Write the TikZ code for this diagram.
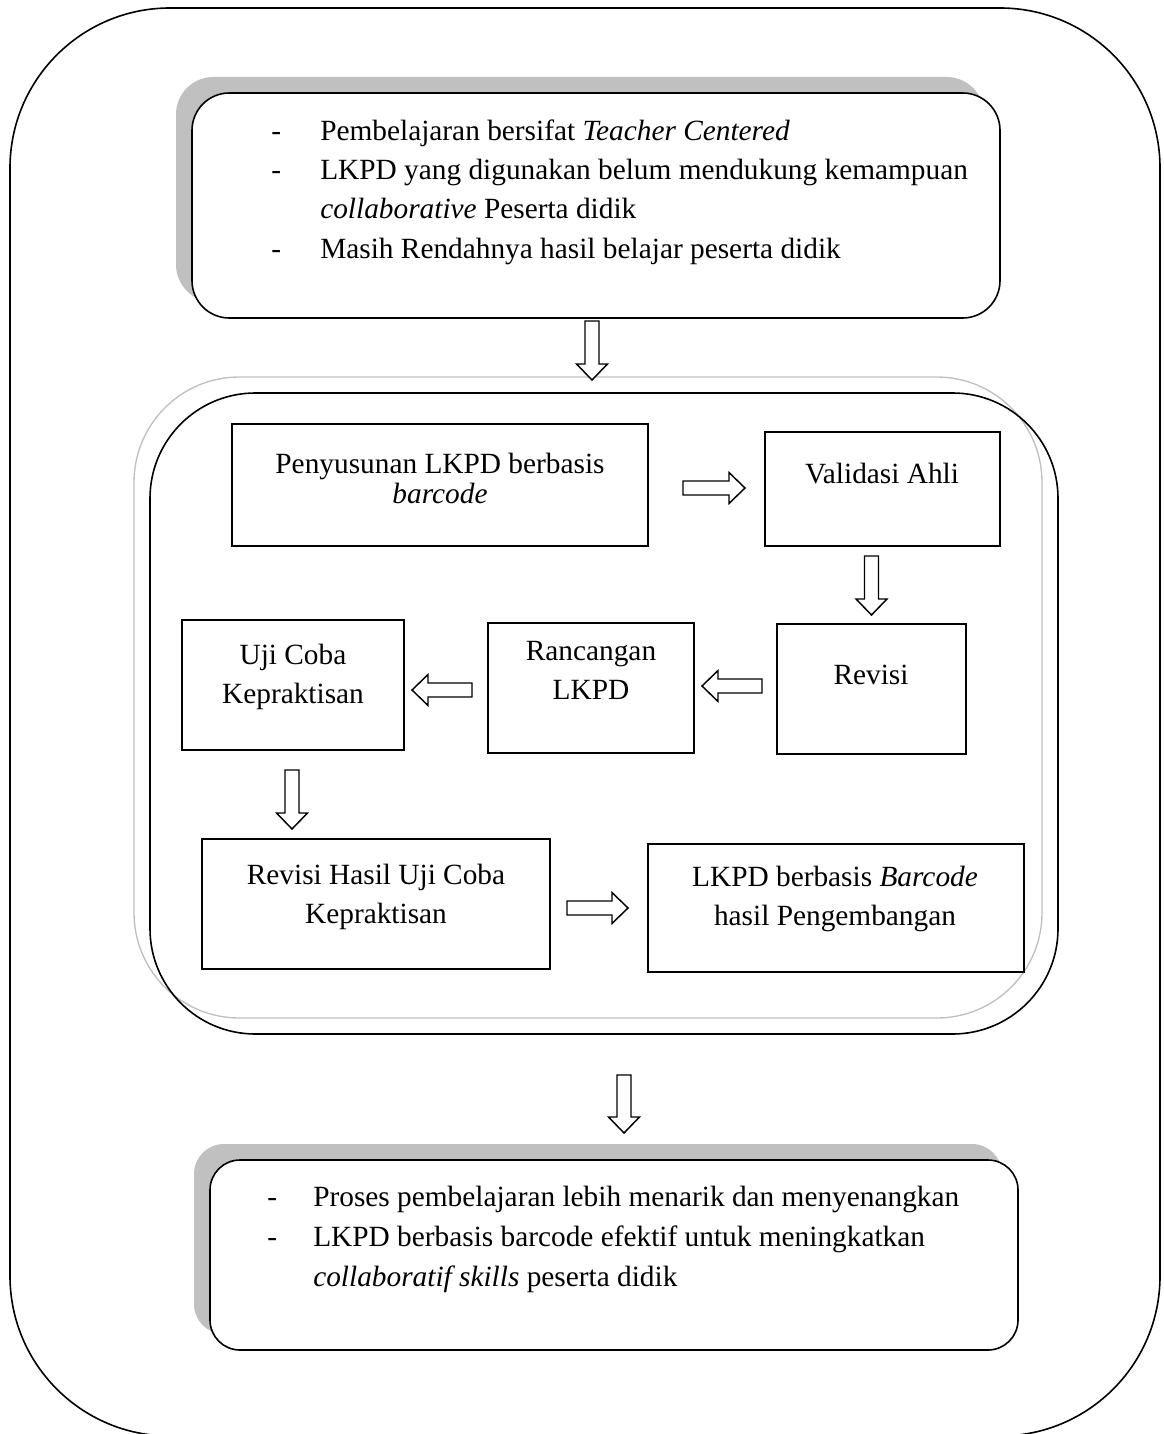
\documentclass[tikz,border=0pt]{standalone}
\usepackage{fontspec}
\setmainfont{Liberation Serif}
\usetikzlibrary{calc,fit}

% hollow block arrow from one named coordinate to another
\newcommand\fatarrow[2]{%
  \coordinate (#1-h) at ($(#2)!12pt!(#1)$);
  \draw[blockarrow] ($(#1)!5.25pt!90:(#2)$) -- ($(#1-h)!5.25pt!90:(#2)$)
    -- ($(#1-h)!11.6pt!90:(#2)$) -- (#2) -- ($(#1-h)!11.6pt!-90:(#2)$)
    -- ($(#1-h)!5.25pt!-90:(#2)$) -- ($(#1)!5.25pt!-90:(#2)$) -- cycle;}

\definecolor{shadowgray}{HTML}{C0C0C0}
\definecolor{rim}{HTML}{BFBFBF}

\tikzset{
  frame/.style={draw=black, line width=1.2pt},
  stepbox/.style={draw=black, line width=1.2pt, inner sep=0pt},
  blockarrow/.style={draw=black, line width=1.1pt, fill=white, line join=miter},
  txt/.style={inner sep=0pt, font=\fontsize{22pt}{29.25pt}\selectfont},
  boxtxt/.style={txt, align=center},
}

\begin{document}
\begin{tikzpicture}[x=0.75pt, y=-0.75pt]
\useasboundingbox (0,0) rectangle (1163,1434);

% outer frame
\draw[frame, rounded corners=120pt] (10,8) rectangle (1160,1436);

% problem box with shadow
\fill[shadowgray, rounded corners=28pt] (176,77) rectangle (984,302);
\draw[frame, fill=white, rounded corners=28pt] (192,93) rectangle (1000,318);
\node[fit={(192,93) (1000,318)}, inner sep=0pt] (problem) {};

\node[txt, anchor=base west] (p1d) at (271,141) {-};
\node[txt, anchor=base west] (p1) at (320,141) {Pembelajaran bersifat \textit{Teacher Centered}};
\node[txt, anchor=base west] (p2d) at (271,180) {-};
\node[txt, anchor=base west] (p2) at (320,180) {LKPD yang digunakan belum mendukung kemampuan};
\node[txt, anchor=base west] (p3) at (320,219) {\textit{collaborative} Peserta didik};
\node[txt, anchor=base west] (p4d) at (271,258) {-};
\node[txt, anchor=base west] (p4) at (320,258) {Masih Rendahnya hasil belajar peserta didik};

% development frame
\draw[draw=rim, line width=1pt, rounded corners=79pt] (134,377) rectangle (1042,1018);
\draw[frame, rounded corners=79pt] (150,393) rectangle (1058,1034);
\node[fit={(150,393) (1058,1034)}, inner sep=0pt] (dev) {};

% steps
\node[stepbox, fit={(232,424) (648,546)}] (susun) {};
\node[boxtxt, font=\fontsize{22pt}{22.5pt}\selectfont] (susunT) at (440,478) {Penyusunan LKPD berbasis\\\textit{barcode}};

\node[stepbox, fit={(765,432) (1000,546)}] (valid) {};
\node[boxtxt] (validT) at (882,474) {Validasi Ahli};

\node[stepbox, fit={(777,624) (966,754)}] (revisi) {};
\node[boxtxt] (revisiT) at (871,675) {Revisi};

\node[stepbox, fit={(488,623) (694,753)}] (rancang) {};
\node[boxtxt] (rancangT) at (591,670) {Rancangan\\LKPD};

\node[stepbox, fit={(182,620) (404,750)}] (uji) {};
\node[boxtxt] (ujiT) at (293,677) {Uji Coba\\Kepraktisan};

\node[stepbox, fit={(202,839) (550,969)}] (revhasil) {};
\node[boxtxt] (revhasilT) at (376,897) {Revisi Hasil Uji Coba\\Kepraktisan};

\node[stepbox, fit={(648,844) (1024,972)}] (hasil) {};
\node[boxtxt] (hasilT) at (835,899) {LKPD berbasis \textit{Barcode}\\hasil Pengembangan};

% outcome box with shadow
\fill[shadowgray, rounded corners=22.5pt] (194,1144) rectangle (1002,1334);
\draw[frame, fill=white, rounded corners=22.5pt] (210,1160) rectangle (1018,1350);
\node[fit={(210,1160) (1018,1350)}, inner sep=0pt] (outcome) {};

\node[txt, anchor=base west] (o1d) at (267,1206) {-};
\node[txt, anchor=base west] (o1) at (313,1206) {Proses pembelajaran lebih menarik dan menyenangkan};
\node[txt, anchor=base west] (o2d) at (267,1246) {-};
\node[txt, anchor=base west] (o2) at (313,1246) {LKPD berbasis barcode efektif untuk meningkatkan};
\node[txt, anchor=base west] (o3) at (313,1286) {\textit{collaboratif skills} peserta didik};

% arrow end points
\coordinate (a1s) at (592,321);   \coordinate (a1e) at (592,380);
\coordinate (a2s) at (683,488);   \coordinate (a2e) at (745,488);
\coordinate (a3s) at (871.5,556); \coordinate (a3e) at (871.5,615);
\coordinate (a4s) at (762,686);   \coordinate (a4e) at (702,686);
\coordinate (a5s) at (472,690);   \coordinate (a5e) at (412,690);
\coordinate (a6s) at (292,770);   \coordinate (a6e) at (292,829);
\coordinate (a7s) at (567,908);   \coordinate (a7e) at (628,908);
\coordinate (a8s) at (624,1075);  \coordinate (a8e) at (624,1133);

\fatarrow{a1s}{a1e}
\fatarrow{a2s}{a2e}
\fatarrow{a3s}{a3e}
\fatarrow{a4s}{a4e}
\fatarrow{a5s}{a5e}
\fatarrow{a6s}{a6e}
\fatarrow{a7s}{a7e}
\fatarrow{a8s}{a8e}
\end{tikzpicture}
\end{document}
